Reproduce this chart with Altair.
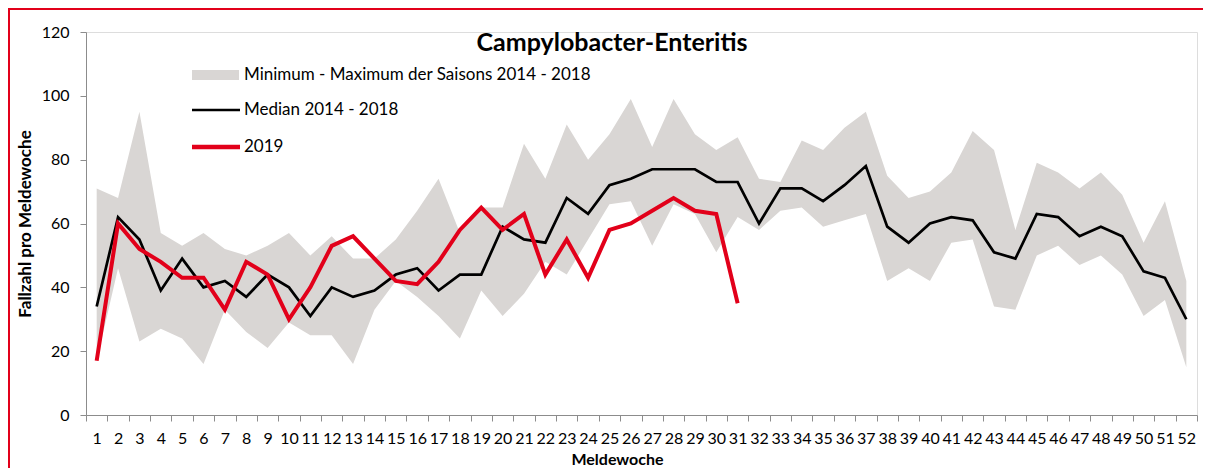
import altair as alt
import pandas as pd

weeks = list(range(1, 53))
band_min = [17, 46, 23, 27, 24, 16, 33, 26, 21, 29,
            25, 25, 16, 33, 42, 37, 31, 24, 39, 31,
            38, 48, 44, 55, 66, 67, 53, 66, 63, 51,
            62, 58, 64, 65, 59, 61, 63, 42, 46, 42,
            54, 55, 34, 33, 50, 53, 47, 50, 44, 31,
            36, 15]
band_max = [71, 68, 95, 57, 53, 57, 52, 50, 53, 57,
            50, 56, 49, 49, 55, 64, 74, 57, 65, 65,
            85, 74, 91, 80, 88, 99, 84, 99, 88, 83,
            87, 74, 73, 86, 83, 90, 95, 75, 68, 70,
            76, 89, 83, 58, 79, 76, 71, 76, 69, 54,
            67, 42]
median = [34, 62, 55, 39, 49, 40, 42, 37, 44, 40,
          31, 40, 37, 39, 44, 46, 39, 44, 44, 59,
          55, 54, 68, 63, 72, 74, 77, 77, 77, 73,
          73, 60, 71, 71, 67, 72, 78, 59, 54, 60,
          62, 61, 51, 49, 63, 62, 56, 59, 56, 45,
          43, 30]
weeks_2019 = list(range(1, 32))
cases_2019 = [17, 60, 52, 48, 43, 43, 33, 48, 44, 30,
              40, 53, 56, 49, 42, 41, 48, 58, 65, 58,
              63, 44, 55, 43, 58, 60, 64, 68, 64, 63,
              35]

title_text = "Campylobacter-Enteritis"
legend_labels = ["Minimum - Maximum der Saisons 2014 - 2018",
                 "Median 2014 - 2018", "2019"]
x_title = "Meldewoche"
y_title = "Fallzahl pro Meldewoche"
y_ticks = [0, 20, 40, 60, 80, 100, 120]

GREY = "#D9D6D4"
RED = "#E2001A"
AXIS = "#8C8C8C"
FONT = "Lato"

W, H = 1111, 383

df = pd.DataFrame({"week": weeks, "min": band_min, "max": band_max, "median": median})
df19 = pd.DataFrame({"week": weeks_2019, "cases": cases_2019})

xscale = alt.Scale(type="band", domain=weeks, paddingInner=0, paddingOuter=0)
xaxis = alt.Axis(title=x_title, tickBand="extent", labelAngle=0, labelOverlap=False,
                 tickSize=6, labelPadding=9, labelFontSize=16, labelFont=FONT,
                 labelColor="black", domainColor=AXIS, tickColor=AXIS,
                 titleFont=FONT, titleFontSize=16, titleFontWeight="bold",
                 titleX=531, titleY=49, titleBaseline="alphabetic", titleColor="black")
yscale = alt.Scale(domain=[0, 120], nice=False)
yaxis = alt.Axis(title=y_title, values=y_ticks, tickSize=6, labelPadding=11,
                 labelFontSize=16, labelFont=FONT, labelColor="black",
                 domainColor=AXIS, tickColor=AXIS, grid=False,
                 titleFont=FONT, titleFontSize=17, titleFontWeight="bold",
                 titlePadding=7, titleColor="black")

X = alt.X("week:O", scale=xscale, axis=xaxis, bandPosition=0.5)
Xn = alt.X("week:O", scale=xscale, bandPosition=0.5)

band = alt.Chart(df).mark_area(color=GREY, opacity=1).encode(
    x=X,
    y=alt.Y("min:Q", scale=yscale, axis=yaxis),
    y2="max:Q",
)
med = alt.Chart(df).mark_line(color="black", strokeWidth=2.7).encode(
    x=Xn, y=alt.Y("median:Q", scale=yscale)
)
line19 = alt.Chart(df19).mark_line(color=RED, strokeWidth=4).encode(
    x=Xn, y=alt.Y("cases:Q", scale=yscale)
)

one = pd.DataFrame({"k": [0]})
# legend
lg_rect = alt.Chart(one).mark_rect(color=GREY).encode(
    x=alt.value(106), x2=alt.value(153), y=alt.value(38), y2=alt.value(48))
lg_med = alt.Chart(one).mark_rule(color="black", strokeWidth=2.7).encode(
    x=alt.value(106), x2=alt.value(154), y=alt.value(78))
lg_red = alt.Chart(one).mark_rule(color=RED, strokeWidth=4.5).encode(
    x=alt.value(106), x2=alt.value(154), y=alt.value(115))
lg_texts = []
for lab, yy in zip(legend_labels, [43, 78, 115]):
    lg_texts.append(
        alt.Chart(one).mark_text(align="left", baseline="middle", font=FONT,
                                 fontSize=17, color="black", text=lab).encode(
            x=alt.value(158), y=alt.value(yy)))

title = alt.Chart(one).mark_text(align="center", baseline="alphabetic", font=FONT,
                                 fontSize=25, fontWeight="bold", color="black",
                                 text=title_text).encode(
    x=alt.value(526), y=alt.value(18.5))

frame = alt.Chart(one).mark_rect(fill=None, stroke=RED, strokeWidth=2).encode(
    x=alt.value(-77), x2=alt.value(1200), y=alt.value(-23), y2=alt.value(500))

chart = alt.layer(band, med, line19, lg_rect, lg_med, lg_red, *lg_texts, title, frame).properties(
    width=W, height=H,
    autosize=alt.AutoSizeParams(type="none"),
    padding={"left": 78, "top": 24, "right": 6, "bottom": 53},
).configure_view(stroke=None).configure(background="white")

chart.save("out.html", embed_options={"renderer": "svg", "actions": False})
